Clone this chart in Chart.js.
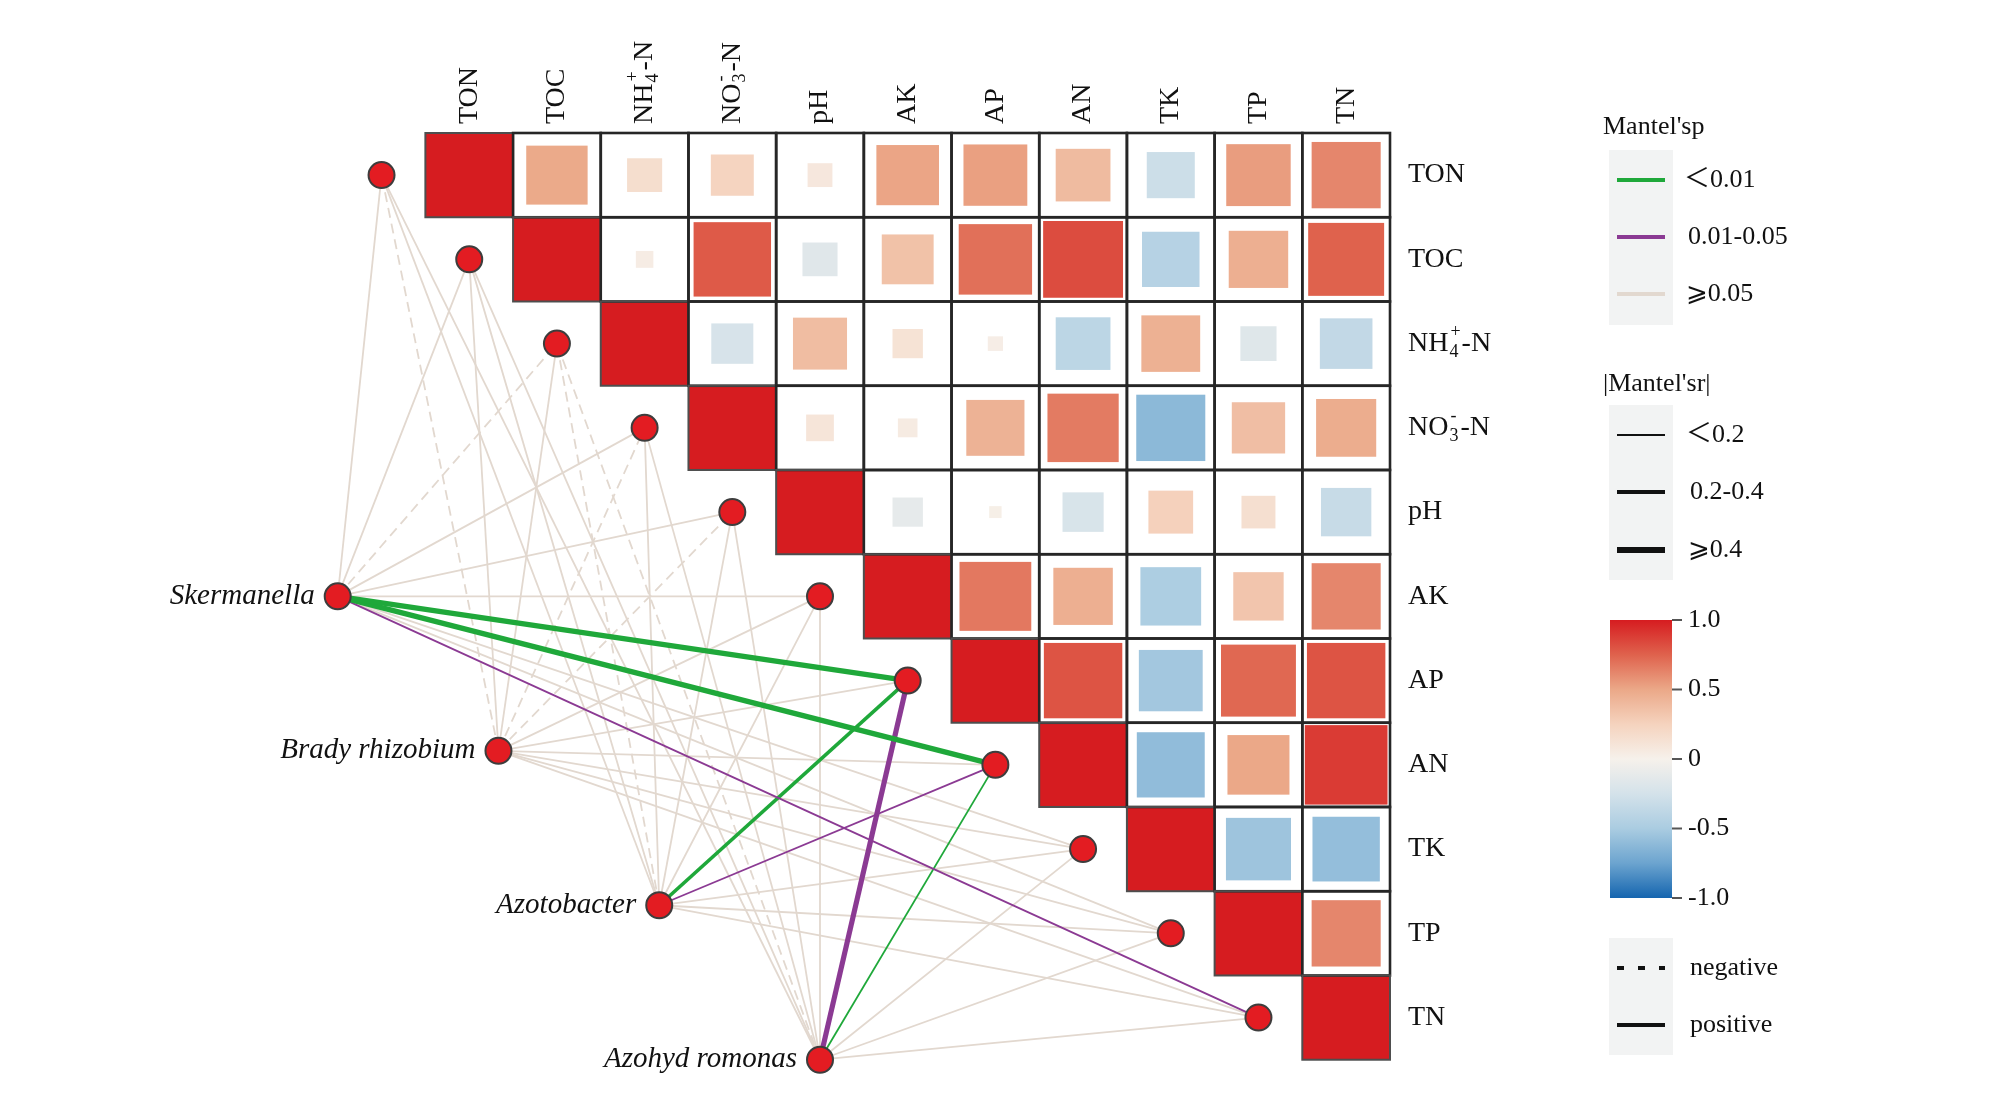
<!DOCTYPE html>
<html lang="en">
<head>
<meta charset="UTF-8">
<title>Mantel test network</title>
<script src="https://cdn.jsdelivr.net/npm/chart.js"></script>
<style>
    body { margin: 0; background: white; }
    #wrap { width: 2016px; height: 1104px; }
</style>
</head>
<body>
<div id="wrap"><canvas id="mantelChart" width="2016" height="1104"></canvas></div>
<script>
// soil factors, heatmap rows and columns
const envVars = ['TON', 'TOC', 'NH4+-N', 'NO3--N', 'pH', 'AK', 'AP', 'AN', 'TK', 'TP', 'TN'];
const species = ['Skermanella', 'Brady rhizobium', 'Azotobacter', 'Azohyd romonas'];

// correlation matrix, upper triangle only (row i, columns i..10)
const corrTON = [1, 0.49, 0.16, 0.24, 0.08, 0.51, 0.53, 0.39, -0.30, 0.54, 0.62];
const corrTOC = [1, 0.04, 0.78, -0.16, 0.35, 0.70, 0.83, -0.43, 0.46, 0.75];
const corrNH4 = [1, -0.23, 0.38, 0.12, 0.03, -0.39, 0.45, -0.17, -0.36];
const corrNO3 = [1, 0.10, 0.05, 0.44, 0.66, -0.62, 0.37, 0.47];
const corrPH  = [1, -0.12, 0.02, -0.22, 0.26, 0.15, -0.33];
const corrAK  = [1, 0.67, 0.46, -0.48, 0.33, 0.62];
const corrAP  = [1, 0.80, -0.53, 0.73, 0.80];
const corrAN  = [1, -0.60, 0.50, 0.89];
const corrTK  = [1, -0.55, -0.59];
const corrTP  = [1, 0.62];
const corrTN  = [1];
const corrRows = [corrTON, corrTOC, corrNH4, corrNO3, corrPH, corrAK, corrAP, corrAN, corrTK, corrTP, corrTN];

// Mantel r and p of each genus against the 11 factors
const mantelR_Sker   = [0.12, 0.10, -0.08, 0.11, 0.09, 0.13, 0.46, 0.44, 0.10, 0.12, 0.18];
const mantelP_Sker   = [0.21, 0.32, 0.48, 0.26, 0.30, 0.15, 0.003, 0.004, 0.41, 0.22, 0.03];
const mantelR_Brady  = [-0.07, 0.09, 0.06, -0.05, -0.06, 0.10, 0.12, 0.11, 0.08, 0.07, 0.09];
const mantelP_Brady  = [0.62, 0.35, 0.51, 0.70, 0.66, 0.28, 0.19, 0.24, 0.44, 0.47, 0.36];
const mantelR_Azoto  = [0.10, 0.08, -0.07, 0.09, 0.10, 0.12, 0.33, 0.16, 0.08, 0.10, 0.11];
const mantelP_Azoto  = [0.27, 0.40, 0.58, 0.31, 0.29, 0.18, 0.004, 0.03, 0.42, 0.25, 0.23];
const mantelR_Azohyd = [0.09, 0.07, -0.09, 0.10, 0.08, 0.11, 0.42, 0.18, 0.07, 0.09, 0.10];
const mantelP_Azohyd = [0.33, 0.45, 0.39, 0.28, 0.37, 0.24, 0.02, 0.008, 0.49, 0.34, 0.30];
const mantelR = [mantelR_Sker, mantelR_Brady, mantelR_Azoto, mantelR_Azohyd];
const mantelP = [mantelP_Sker, mantelP_Brady, mantelP_Azoto, mantelP_Azohyd];

const colorbarTicks = [1, 0.5, 0, -0.5, -1];

// colours
const GREEN = '#1fa83a', PURPLE = '#8b3a93', BEIGE = '#e2d8cf';
const NODE_FILL = '#e31c22';
const SERIF = "'Liberation Serif', 'Times New Roman', serif";
const SYM = "'Liberation Serif', 'Noto Sans CJK SC', 'DejaVu Sans', serif";

// diverging scale, blue -> white -> red
const colorStops = [
    [-1, [21, 101, 175]], [-0.75, [108, 164, 207]], [-0.5, [170, 204, 225]],
    [-0.25, [212, 226, 234]], [0, [246, 241, 235]], [0.25, [245, 211, 190]],
    [0.5, [235, 168, 136]], [0.75, [223, 98, 77]], [1, [214, 28, 32]]
];
function corrColor(v) {
    for (let i = 1; i < colorStops.length; i++) {
        const [b, cb] = colorStops[i];
        const [a, ca] = colorStops[i - 1];
        if (v <= b) {
            const t = (v - a) / (b - a);
            const c = ca.map((q, k) => Math.round(q + (cb[k] - q) * t));
            return `rgb(${c[0]},${c[1]},${c[2]})`;
        }
    }
    return 'rgb(214,28,32)';
}

function pColor(p) { return p < 0.01 ? GREEN : (p < 0.05 ? PURPLE : BEIGE); }
function rWidth(r) { const a = Math.abs(r); return a < 0.2 ? 1.8 : (a < 0.4 ? 3.6 : 5.2); }

// node layout in grid units: factor nodes sit left of the diagonal, genera on a diagonal line
function envPos(i) { return { x: i - 0.5, y: i + 0.5 }; }
function speciesPos(k) { return { x: -1 + k * 5.5 / 3, y: 5.5 + k * 5.5 / 3 }; }

// edges: coloured ones are listed first so they end up on top
const colouredEdges = [], plainEdges = [];
species.forEach((s, k) => {
    envVars.forEach((e, j) => {
        const r = mantelR[k][j], p = mantelP[k][j];
        const ds = {
            label: s + ' - ' + e,
            data: [speciesPos(k), envPos(j)],
            showLine: true,
            pointRadius: 0,
            borderColor: pColor(p),
            borderWidth: rWidth(r),
            borderDash: r < 0 ? [10, 6] : [],
            clip: false
        };
        (p < 0.05 ? colouredEdges : plainEdges).push(ds);
    });
});

const nodeSet = {
    label: 'nodes',
    data: envVars.map((e, i) => envPos(i)).concat(species.map((s, k) => speciesPos(k))),
    pointRadius: 13,
    pointBackgroundColor: NODE_FILL,
    pointBorderColor: '#3d3d3d',
    pointBorderWidth: 2,
    showLine: false,
    clip: false
};

// sub / superscript labels
const RICH = {
    'NH4+-N': [{ t: 'NH' }, { sub: '4', sup: '+' }, { t: '-N' }],
    'NO3--N': [{ t: 'NO' }, { sub: '3', sup: '-' }, { t: '-N' }]
};
function drawRich(ctx, name, x, y, size) {
    const parts = RICH[name] || [{ t: name }];
    let cx = x;
    ctx.textAlign = 'left';
    ctx.textBaseline = 'middle';
    parts.forEach(pt => {
        if (pt.t) {
            ctx.font = `${size}px ${SERIF}`;
            ctx.fillText(pt.t, cx, y);
            cx += ctx.measureText(pt.t).width;
        } else {
            ctx.font = `${Math.round(size * 0.65)}px ${SERIF}`;
            ctx.fillText(pt.sub, cx + 1, y + size * 0.3);
            ctx.fillText(pt.sup, cx + 2, y - size * 0.4);
            cx += Math.max(ctx.measureText(pt.sub).width, ctx.measureText(pt.sup).width) + 3;
        }
    });
}

const heatPlugin = {
    id: 'heat',
    beforeDatasetsDraw(chart) {
        const { ctx, scales: { x, y } } = chart;
        ctx.save();
        corrRows.forEach((row, i) => {
            row.forEach((v, k) => {
                const j = i + k;
                const x0 = x.getPixelForValue(j), x1 = x.getPixelForValue(j + 1);
                const y0 = y.getPixelForValue(i), y1 = y.getPixelForValue(i + 1);
                const w = x1 - x0, h = y1 - y0;
                if (j === i) {
                    ctx.fillStyle = corrColor(v);
                    ctx.fillRect(x0, y0, w, h);
                } else {
                    ctx.fillStyle = '#ffffff';
                    ctx.fillRect(x0, y0, w, h);
                    const f = Math.sqrt(Math.abs(v));
                    ctx.fillStyle = corrColor(v);
                    ctx.fillRect(x0 + w * (1 - f) / 2, y0 + h * (1 - f) / 2, w * f, h * f);
                }
            });
        });
        // borders
        corrRows.forEach((row, i) => {
            row.forEach((v, k) => {
                const j = i + k;
                const x0 = x.getPixelForValue(j), x1 = x.getPixelForValue(j + 1);
                const y0 = y.getPixelForValue(i), y1 = y.getPixelForValue(i + 1);
                ctx.strokeStyle = j === i ? '#4e4e4e' : '#262626';
                ctx.lineWidth = j === i ? 2 : 2.6;
                ctx.strokeRect(x0, y0, x1 - x0, y1 - y0);
            });
        });
        ctx.restore();
    },
    afterDatasetsDraw(chart) {
        const { ctx, scales: { x, y } } = chart;
        ctx.save();
        ctx.fillStyle = '#111';
        // column labels (rotated) and row labels
        envVars.forEach((e, i) => {
            ctx.save();
            ctx.translate(x.getPixelForValue(i + 0.5), y.getPixelForValue(0) - 9);
            ctx.rotate(-Math.PI / 2);
            drawRich(ctx, e, 0, 0, 28);
            ctx.restore();
            drawRich(ctx, e, x.getPixelForValue(11) + 18, y.getPixelForValue(i + 0.5), 28);
        });
        // genus names
        ctx.font = `italic 29px ${SERIF}`;
        ctx.textAlign = 'right';
        ctx.textBaseline = 'middle';
        species.forEach((s, k) => {
            const p = speciesPos(k);
            ctx.fillText(s, x.getPixelForValue(p.x) - 23, y.getPixelForValue(p.y));
        });
        drawLegend(ctx);
        ctx.restore();
    }
};

function legendLine(ctx, yy, color, width, dash) {
    ctx.beginPath();
    ctx.strokeStyle = color;
    ctx.lineWidth = width;
    ctx.setLineDash(dash || []);
    ctx.moveTo(1617, yy);
    ctx.lineTo(1665, yy);
    ctx.stroke();
    ctx.setLineDash([]);
}
function legendText(ctx, txt, xx, yy) {
    ctx.font = `26px ${SYM}`;
    ctx.textAlign = 'left';
    ctx.textBaseline = 'middle';
    ctx.fillStyle = '#111';
    ctx.fillText(txt, xx, yy);
}

function drawLegend(ctx) {
    const bx = 1609, bw = 64;
    ctx.fillStyle = '#f2f3f3';
    ctx.fillRect(bx, 150, bw, 175);
    ctx.fillRect(bx, 405, bw, 175);
    ctx.fillRect(bx, 938, bw, 117);

    legendText(ctx, "Mantel'sp", 1603, 127);
    legendLine(ctx, 180, GREEN, 4);
    legendLine(ctx, 237, PURPLE, 4);
    legendLine(ctx, 294, BEIGE, 4);
    legendText(ctx, '＜0.01', 1684, 180);
    legendText(ctx, '0.01-0.05', 1688, 237);
    legendText(ctx, '⩾0.05', 1686, 294);

    legendText(ctx, "|Mantel'sr|", 1603, 384);
    legendLine(ctx, 435, '#111', 2);
    legendLine(ctx, 492, '#111', 4);
    legendLine(ctx, 550, '#111', 6);
    legendText(ctx, '＜0.2', 1686, 435);
    legendText(ctx, '0.2-0.4', 1690, 492);
    legendText(ctx, '⩾0.4', 1688, 550);

    // colour bar
    const top = 620, bot = 898, cx0 = 1610, cw = 62;
    const grad = ctx.createLinearGradient(0, top, 0, bot);
    colorStops.forEach(([v]) => grad.addColorStop((1 - v) / 2, corrColor(v)));
    ctx.fillStyle = grad;
    ctx.fillRect(cx0, top, cw, bot - top);
    colorbarTicks.forEach(v => {
        const yy = top + (1 - v) / 2 * (bot - top);
        ctx.strokeStyle = '#555';
        ctx.lineWidth = 2;
        ctx.beginPath();
        ctx.moveTo(cx0 + cw, yy);
        ctx.lineTo(cx0 + cw + 10, yy);
        ctx.stroke();
        legendText(ctx, v === 0 ? '0' : v.toFixed(1), 1688, yy);
    });

    legendLine(ctx, 968, '#111', 4, [7, 14]);
    legendLine(ctx, 1025, '#111', 4);
    legendText(ctx, 'negative', 1690, 968);
    legendText(ctx, 'positive', 1690, 1025);
}

new Chart(document.getElementById('mantelChart').getContext('2d'), {
    type: 'scatter',
    data: { datasets: [nodeSet].concat(colouredEdges, plainEdges) },
    options: {
        responsive: false,
        animation: false,
        devicePixelRatio: 1,
        // x runs from -2 so the leftmost nodes stay inside the chart area
        layout: { padding: { left: 250, right: 626, top: 133, bottom: 19 } },
        scales: {
            x: { type: 'linear', min: -2, max: 11, display: false },
            y: { type: 'linear', min: 0, max: 11.3, reverse: true, display: false }
        },
        plugins: { legend: { display: false }, tooltip: { enabled: false } }
    },
    plugins: [heatPlugin]
});
</script>
</body>
</html>
